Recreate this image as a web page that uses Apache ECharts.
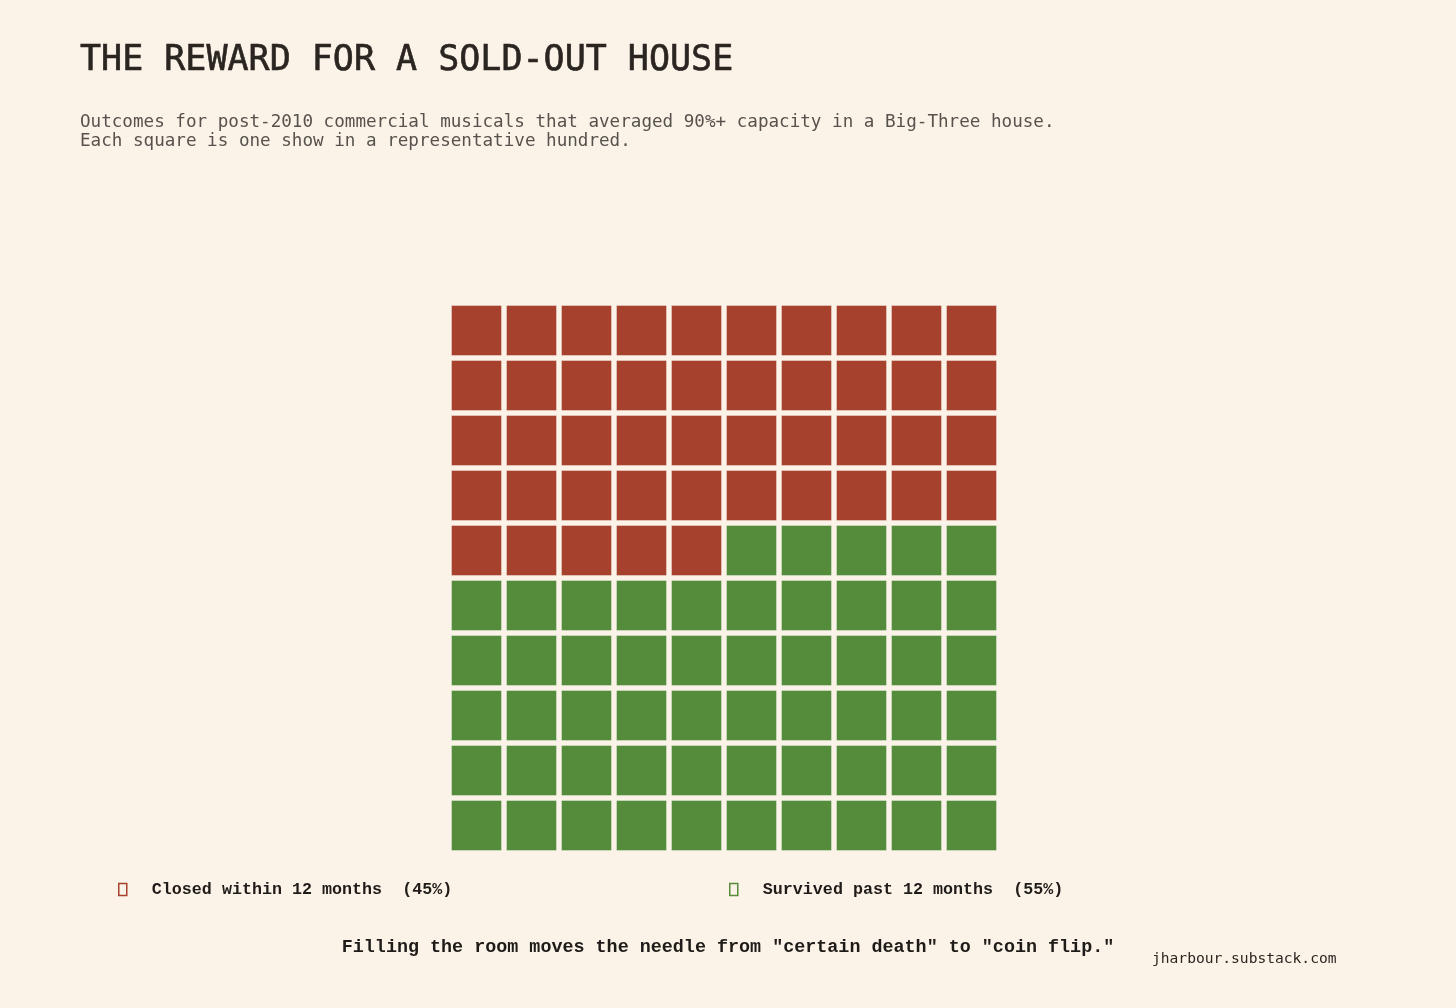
<!DOCTYPE html>
<html>
<head>
<meta charset="utf-8">
<title>The reward for a sold-out house</title>
<script src="https://cdn.jsdelivr.net/npm/echarts@6/dist/echarts.min.js"></script>
<style>
    html, body {margin: 0; padding: 0; background: #fcf3e8;}
    #chart {width: 1456px; height: 1008px;}
</style>
</head>
<body>
<div id="chart"></div>
<script>
var categories = ['Closed within 12 months', 'Survived past 12 months'];
var counts = [45, 55];
var colors = ['#a5412d', '#558c3c'];
var gridCols = 10;
var gridRows = 10;

// lay the hundred shows out row by row, closed first
var cells = [[], []];
var idx = 0;
counts.forEach(function (n, k) {
    for (var i = 0; i < n; i++) {
        cells[k].push([idx % gridCols, Math.floor(idx / gridCols)]);
        idx++;
    }
});

var total = counts[0] + counts[1];
var renderCell = function (params, api) {
    var p0 = api.coord([api.value(0), api.value(1)]);
    var p1 = api.coord([api.value(0) + 1, api.value(1) + 1]);
    var gap = 2.5;
    var x = Math.min(p0[0], p1[0]) + gap;
    var y = Math.min(p0[1], p1[1]) + gap;
    return {
        type: 'rect',
        shape: {x: x, y: y, width: Math.abs(p1[0] - p0[0]) - gap * 2, height: Math.abs(p1[1] - p0[1]) - gap * 2},
        style: {fill: api.visual('color'), stroke: 'rgba(255,255,255,0.35)', lineWidth: 1}
    };
};

var legendFor = function (k, left) {
    return {
        left: left,
        top: 876,
        data: [categories[k]],
        icon: 'rect',
        itemWidth: 8,
        itemHeight: 12,
        selectedMode: false,
        itemStyle: {color: 'transparent', borderColor: colors[k], borderWidth: 1.5},
        formatter: function (name) {
            return '  ' + name + '  (' + Math.round(counts[k] / total * 100) + '%)';
        },
        textStyle: {fontFamily: 'Liberation Mono', fontWeight: 'bold', fontSize: 16.7, color: '#1e1b18'}
    };
};

var chart = echarts.init(document.getElementById('chart'));
chart.setOption({
    backgroundColor: '#fcf3e8',
    animation: false,
    title: [{
        text: 'THE REWARD FOR A SOLD-OUT HOUSE',
        left: 75,
        top: 38,
        textStyle: {fontFamily: 'DejaVu Sans Mono', fontSize: 35, fontWeight: 'normal', color: '#2a2520', textBorderColor: '#2a2520', textBorderWidth: 0.6}
    }, {
        text: 'Outcomes for post-2010 commercial musicals that averaged 90%+ capacity in a Big-Three house.\nEach square is one show in a representative hundred.',
        left: 75,
        top: 108,
        textStyle: {fontFamily: 'DejaVu Sans Mono', fontSize: 17.6, fontWeight: 'normal', color: '#56524d', lineHeight: 19}
    }, {
        text: 'Filling the room moves the needle from "certain death" to "coin flip."',
        left: 'center',
        top: 933,
        textStyle: {fontFamily: 'Liberation Mono', fontSize: 18.4, fontWeight: 'bold', color: '#1e1b18'}
    }, {
        text: 'jharbour.substack.com',
        left: 1147,
        top: 947,
        textStyle: {fontFamily: 'DejaVu Sans Mono', fontSize: 14.6, fontWeight: 'normal', color: '#2a2520'}
    }],
    legend: [legendFor(0, 113), legendFor(1, 724)],
    grid: {left: 449, top: 303, width: 550, height: 550},
    xAxis: {type: 'value', min: 0, max: gridCols, show: false},
    yAxis: {type: 'value', min: 0, max: gridRows, inverse: true, show: false},
    series: categories.map(function (name, k) {
        return {
            name: name,
            type: 'custom',
            color: colors[k],
            renderItem: renderCell,
            data: cells[k]
        };
    })
});
</script>
</body>
</html>
